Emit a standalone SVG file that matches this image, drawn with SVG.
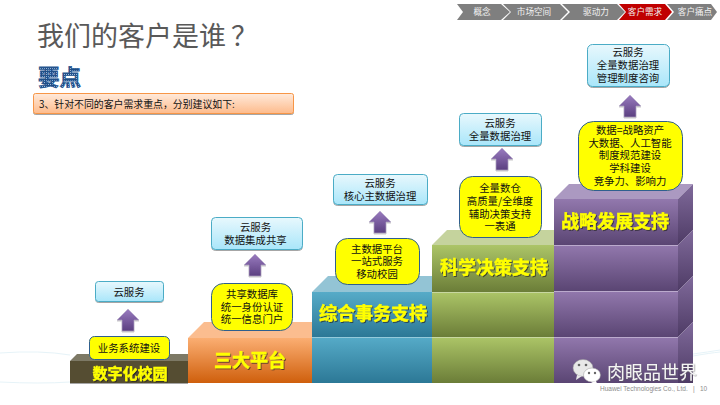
<svg xmlns="http://www.w3.org/2000/svg" width="720" height="405" viewBox="0 0 720 405">
<style>
text{font-family:"Noto Sans CJK SC","Liberation Sans",sans-serif;text-anchor:middle}
.nav{font-size:8.6px;fill:#f2f2f2}
.cloud{fill:url(#gCloud);stroke:#4bacc6;stroke-width:1;filter:url(#sh)}
.yel{fill:#ffff00;stroke:#2f5f8f;stroke-width:1}
.t{font-size:10.4px;fill:#111}
.big{font-weight:700;fill:#ffff00;stroke:#ffff00;stroke-width:.4;font-size:18px;filter:url(#tsh)}
.arrow{fill:url(#gArrow);stroke:#b9aecb;stroke-width:.6;filter:url(#sh)}
.foot{text-anchor:start;font-family:"Liberation Sans",sans-serif;font-size:6.5px;fill:#8c8c8c}
</style>
<defs>
<linearGradient id="gCloud" x1="0" y1="0" x2="0" y2="1"><stop offset="0" stop-color="#e8f8fd"/><stop offset="1" stop-color="#a9e6fa"/></linearGradient>
<linearGradient id="gArrow" x1="0" y1="0" x2="0" y2="1"><stop offset="0" stop-color="#9a7cc0"/><stop offset="1" stop-color="#5b3f80"/></linearGradient>
<linearGradient id="gBar" x1="0" y1="0" x2="0" y2="1"><stop offset="0" stop-color="#ffeadb"/><stop offset="1" stop-color="#fdbb8c"/></linearGradient>
<linearGradient id="gOr" x1="0" y1="0" x2="0" y2="1"><stop offset="0" stop-color="#fbae72"/><stop offset="1" stop-color="#cf5f0c"/></linearGradient>
<linearGradient id="gTe" x1="0" y1="0" x2="0" y2="1"><stop offset="0" stop-color="#56abc8"/><stop offset="1" stop-color="#2c7896"/></linearGradient>
<linearGradient id="gGr" x1="0" y1="0" x2="0" y2="1"><stop offset="0" stop-color="#acc567"/><stop offset="1" stop-color="#6b7d38"/></linearGradient>
<linearGradient id="gPu" x1="0" y1="0" x2="0" y2="1"><stop offset="0" stop-color="#9278ad"/><stop offset="1" stop-color="#5a4573"/></linearGradient>
<linearGradient id="gPs" x1="0" y1="0" x2="0" y2="1"><stop offset="0" stop-color="#806a9b"/><stop offset="1" stop-color="#4e3b65"/></linearGradient>
<pattern id="dots" width="2" height="2" patternUnits="userSpaceOnUse"><rect width="2" height="2" fill="#1f4e85"/><rect width="1" height="1" fill="#9dbbe0"/></pattern>
<filter id="sh" x="-10%" y="-10%" width="120%" height="130%"><feDropShadow dx="0" dy="1" stdDeviation=".7" flood-color="#000" flood-opacity=".35"/></filter>
<filter id="tsh" x="-10%" y="-10%" width="125%" height="130%"><feDropShadow dx="1" dy="1" stdDeviation=".6" flood-color="#222" flood-opacity=".7"/></filter>
<filter id="wsh" x="-10%" y="-20%" width="120%" height="140%"><feDropShadow dx=".5" dy=".5" stdDeviation=".5" flood-color="#555" flood-opacity=".8"/></filter>
</defs>

<rect width="720" height="405" fill="#fff"/>
<g id="background-lines" fill="none" stroke="#e6f3f8" stroke-width="1">
<path d="M0 353Q40 350 70 355"/><path d="M0 382Q40 384 70 382"/><path d="M693 354Q708 352 720 350"/><path d="M693 356Q710 353 720 352"/>
</g>

<g id="nav">
<path d="M457 4H501L510 12L501 20H457L463 12Z" fill="#7f7f7f"/>
<path d="M503 4H560L568 12L560 20H503L511 12Z" fill="#7f7f7f"/>
<path d="M562 4H617L625 12L617 20H562L570 12Z" fill="#7f7f7f"/>
<path d="M619 4H665L672 12L665 20H619L626 12Z" fill="#c00000"/>
<path d="M667 4H711L717 12L711 20H667L674 12Z" fill="#7f7f7f"/>
<text class="nav" x="482" y="15">概念</text>
<text class="nav" x="534" y="15">市场空间</text>
<text class="nav" x="596" y="15">驱动力</text>
<text class="nav" x="645" y="15">客户需求</text>
<text class="nav" x="695" y="15">客户痛点</text>
</g>

<g id="title"><text x="37" y="46" style="text-anchor:start;font-size:27px;fill:#595959">我们的客户是谁<tspan dx="5">？</tspan></text></g>
<g id="keypoint"><text x="38" y="85" style="text-anchor:start;font-size:21.5px;font-weight:700;fill:url(#dots);stroke:#2a5a94;stroke-width:.8">要点</text></g>
<g id="note">
<rect x="33.500" y="93.500" width="260" height="20" rx="2" fill="url(#gBar)" stroke="#f79646" filter="url(#sh)"/>
<text x="39" y="108" style="text-anchor:start;font-size:9.9px;fill:#111">3、针对不同的客户需求重点，分别建议如下:</text>
</g>

<g id="step-purple">
<path d="M554 199L569 184H693L678 199Z" fill="#ab99c1"/>
<path d="M678 199L693 184V230L678 245Z" fill="url(#gPs)"/>
<path d="M678 245L693 230V276L678 291Z" fill="url(#gPs)"/>
<path d="M678 291L693 276V322L678 337Z" fill="url(#gPs)"/>
<path d="M678 337L693 322V383H678Z" fill="url(#gPs)"/>
<rect x="554" y="199" width="124" height="46" fill="url(#gPu)"/>
<rect x="554" y="245" width="124" height="46" fill="url(#gPu)"/>
<rect x="554" y="291" width="124" height="46" fill="url(#gPu)"/>
<rect x="554" y="337" width="124" height="46" fill="url(#gPu)"/>
<path d="M554 245.500H678M554 291.500H678M554 337.500H678" stroke="#c5b8d6" stroke-width=".8"/>
<text class="big" x="615" y="228">战略发展支持</text>
</g>
<g id="step-green">
<path d="M432 245L447 230H554V245Z" fill="#c5d39d"/>
<rect x="432" y="245" width="122" height="47" fill="url(#gGr)"/>
<rect x="432" y="292" width="122" height="45" fill="url(#gGr)"/>
<rect x="432" y="337" width="122" height="46" fill="url(#gGr)"/>
<path d="M432 292.500H554M432 337.500H554" stroke="#cfdcae" stroke-width=".8"/>
<text class="big" x="494" y="274">科学决策支持</text>
</g>
<g id="step-teal">
<path d="M312 292L328 276H432V292Z" fill="#93c4d5"/>
<rect x="312" y="292" width="120" height="45" fill="url(#gTe)"/>
<rect x="312" y="337" width="120" height="46" fill="url(#gTe)"/>
<path d="M312 337.500H432" stroke="#a5d2e0" stroke-width=".8"/>
<text class="big" x="373" y="320">综合事务支持</text>
</g>
<g id="step-orange">
<path d="M188 338L204 322H312V338Z" fill="#fbbd8f"/>
<rect x="188" y="338" width="124" height="45" fill="url(#gOr)"/>
<text class="big" x="250" y="367">三大平台</text>
</g>
<g id="step-dark">
<path d="M70 361L77 354H188V361Z" fill="#7d7965"/>
<rect x="70" y="361" width="118" height="22" fill="#544e33" filter="url(#sh)"/>
<text class="big" style="font-size:15px" x="130" y="379">数字化校园</text>
</g>

<g id="connectors">
<path class="arrow" d="M128 309L139 320H134V331H122V320H117Z"/>
<path class="arrow" d="M255 254L266 265H261V276H249V265H244Z"/>
<path class="arrow" d="M380 211L391 222H386V233H374V222H369Z"/>
<path class="arrow" d="M502 148L513 159H508V170H496V159H491Z"/>
<path class="arrow" d="M630 95L641 106H636V117H624V106H619Z"/>
</g>

<g id="cloud-1"><rect class="cloud" x="95.500" y="281.500" width="68" height="20" rx="3"/><text class="t" x="129" y="295.500">云服务</text></g>
<g id="cloud-2"><rect class="cloud" x="211.500" y="217.500" width="91" height="32" rx="4"/><text class="t" x="255.500" y="230.500">云服务<tspan x="255.500" dy="13">数据集成共享</tspan></text></g>
<g id="cloud-3"><rect class="cloud" x="333.500" y="174.500" width="94" height="30" rx="4"/><text class="t" x="380" y="186.500">云服务<tspan x="380" dy="13">核心主数据治理</tspan></text></g>
<g id="cloud-4"><rect class="cloud" x="459.500" y="113.500" width="82" height="32" rx="4"/><text class="t" x="500" y="127">云服务<tspan x="500" dy="13">全量数据治理</tspan></text></g>
<g id="cloud-5"><rect class="cloud" x="587.500" y="44.500" width="82" height="42" rx="5"/><text class="t" x="628" y="56">云服务<tspan x="628" dy="13">全量数据治理</tspan><tspan x="628" dy="12.500">管理制度咨询</tspan></text></g>

<g id="need-1"><rect class="yel" x="89.500" y="336.500" width="80" height="23" rx="5"/><text class="t" x="129" y="351.500">业务系统建设</text></g>
<g id="need-2"><rect class="yel" x="211.500" y="283.500" width="81" height="47" rx="12"/><text class="t" x="252" y="298">共享数据库<tspan x="252" dy="13">统一身份认证</tspan><tspan x="252" dy="12">统一信息门户</tspan></text></g>
<g id="need-3"><rect class="yel" x="335.500" y="238.500" width="84" height="46" rx="12"/><text class="t" x="377" y="252.500">主数据平台<tspan x="377" dy="12.500">一站式服务</tspan><tspan x="377" dy="12.500">移动校园</tspan></text></g>
<g id="need-4"><rect class="yel" x="459.500" y="176.500" width="82" height="61" rx="13"/><text class="t" x="500" y="192">全量数仓<tspan x="500" dy="13">高质量/全维度</tspan><tspan x="500" dy="12.500">辅助决策支持</tspan><tspan x="500" dy="12.500">一表通</tspan></text></g>
<g id="need-5"><rect class="yel" x="578.500" y="121.500" width="104" height="69" rx="15"/><text class="t" x="630" y="134">数据=战略资产<tspan x="630" dy="13">大数据、人工智能</tspan><tspan x="630" dy="12">制度规范建设</tspan><tspan x="630" dy="13">学科建设</tspan><tspan x="630" dy="13">竞争力、影响力</tspan></text></g>

<g id="watermark">
<ellipse cx="583" cy="368" rx="10" ry="8.500" fill="#e8e8e8" stroke="#999" stroke-width=".5"/>
<path d="M577 375L576 380L582 376Z" fill="#e8e8e8"/>
<ellipse cx="592" cy="375" rx="8.500" ry="7" fill="#fff" stroke="#999" stroke-width=".5"/>
<path d="M596 381L598 386L591 382Z" fill="#fff"/>
<circle cx="579" cy="365" r="1.300" fill="#666"/><circle cx="586" cy="365" r="1.300" fill="#666"/>
<circle cx="589" cy="373" r="1.200" fill="#666"/><circle cx="595" cy="373" r="1.200" fill="#666"/>
<text x="607" y="379" filter="url(#wsh)" style="text-anchor:start;font-size:18px;fill:#f4f4f4">肉眼品世界</text>
</g>
<g id="footer"><text class="foot" x="600" y="391">Huawei Technologies Co., Ltd.<tspan x="693">|</tspan><tspan x="700">10</tspan></text></g>
</svg>
